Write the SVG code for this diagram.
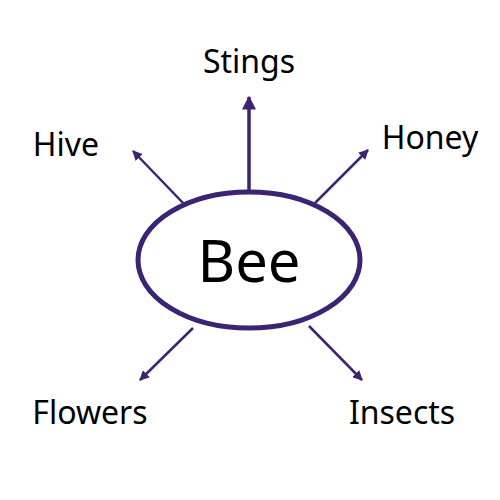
<svg xmlns="http://www.w3.org/2000/svg" width="500" height="500" viewBox="0 0 500 500">
<defs><marker id="ah" viewBox="0 0 10 10" refX="9" refY="5" markerWidth="4" markerHeight="4" orient="auto"><path d="M0,0L10,5L0,10z" fill="#3d2472"/></marker>
<style>.l{stroke:#3d2472;stroke-width:2.5;fill:none;marker-end:url(#ah)}text{font-family:"Noto Sans",sans-serif;fill:#000}</style></defs>
<rect width="500" height="500" fill="#fff"/>
<g id="connectors">
<line class="l" x1="249" y1="190" x2="249" y2="97" style="stroke-width:3.5"/>
<line class="l" x1="185" y1="205" x2="133" y2="151"/>
<line class="l" x1="315" y1="203" x2="368" y2="150"/>
<line class="l" x1="193" y1="328" x2="140" y2="380"/>
<line class="l" x1="309" y1="326" x2="362" y2="380"/>
</g>
<g id="bee"><ellipse cx="249" cy="260" rx="111" ry="68" fill="#fff" stroke="#3d2472" stroke-width="5"/><text x="249" y="282" font-size="58" text-anchor="middle">Bee</text></g>
<g id="stings"><text x="249" y="73" font-size="32" text-anchor="middle">Stings</text></g>
<g id="hive"><text x="66" y="156" font-size="32" text-anchor="middle">Hive</text></g>
<g id="honey"><text x="430" y="149" font-size="32" text-anchor="middle">Honey</text></g>
<g id="flowers"><text x="90" y="424" font-size="32" text-anchor="middle">Flowers</text></g>
<g id="insects"><text x="402" y="424" font-size="32" text-anchor="middle">Insects</text></g>
</svg>
